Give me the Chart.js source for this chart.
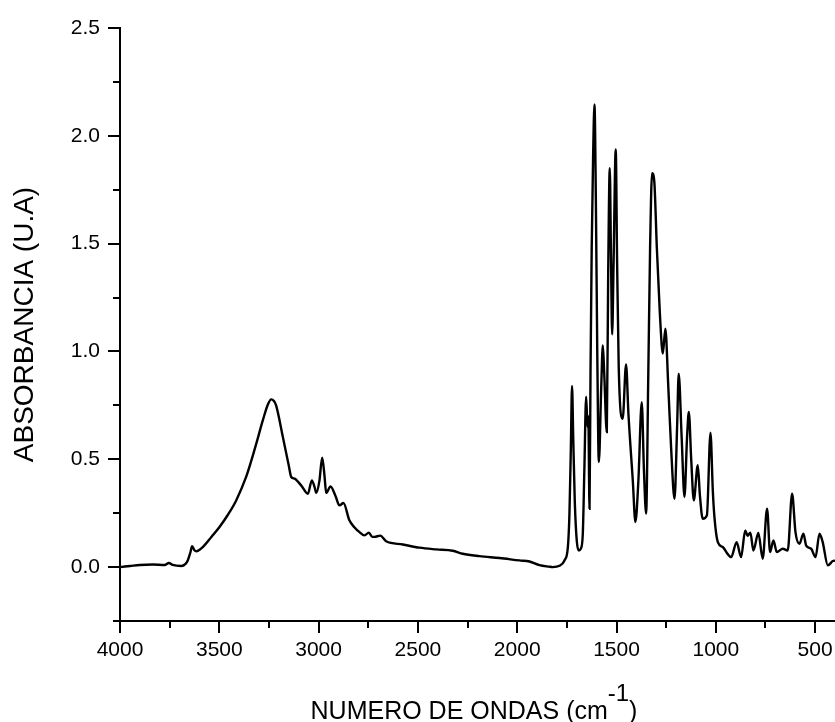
<!DOCTYPE html>
<html lang="es">
<head>
  <meta charset="UTF-8">
  <title>Espectro IR</title>
  <script src="https://cdn.jsdelivr.net/npm/chart.js"></script>
  <style>
    body {
      margin: 0;
      background: #fff;
      font-family: 'Liberation Sans', Arial, sans-serif;
    }
    #wrap {
      width: 835px;
      height: 722px;
    }
  </style>
</head>
<body>
  <div id="wrap"><canvas id="irChart"></canvas></div>

  <script>
    const waveNumbers = [
      4000, 3950, 3900, 3835, 3775, 3754, 3735, 3692, 3670, 3659, 3645, 3637, 3625, 3616, 3583,
      3540, 3499, 3455, 3415, 3365, 3340, 3314, 3281, 3255, 3239, 3225, 3214, 3180, 3150, 3138,
      3121, 3088, 3054, 3034, 3020, 3012, 2996, 2982, 2970, 2962, 2940, 2915, 2895, 2875, 2845,
      2820, 2794, 2769, 2747, 2730, 2719, 2690, 2660, 2576, 2492, 2408, 2325, 2274, 2190, 2089,
      1989, 1938, 1888, 1840, 1821, 1787, 1762, 1745, 1737, 1730, 1724, 1718, 1710, 1700, 1690,
      1680, 1670, 1662, 1653, 1646, 1642, 1636, 1631, 1625, 1618, 1611, 1604, 1597, 1589, 1577,
      1569, 1562, 1549, 1542, 1534, 1528, 1522, 1515, 1504, 1497, 1489, 1469, 1452, 1440, 1418,
      1405, 1390, 1373, 1362, 1351, 1340, 1331, 1321, 1310, 1297, 1282, 1267, 1254, 1240, 1225,
      1208, 1195, 1187, 1172, 1158, 1145, 1136, 1124, 1111, 1091, 1080, 1066, 1045, 1027, 1015,
      1007, 990, 965, 940, 923, 895, 873, 852, 840, 826, 811, 786, 764, 742, 727,
      710, 693, 663, 638, 616, 599, 579, 559, 545, 520, 498, 478, 462, 436, 411, 400
    ];

    // absorbancia (U.A)
    const absorbance = [
      0.000, 0.005, 0.010, 0.012, 0.010, 0.019, 0.010, 0.005, 0.015, 0.031, 0.070, 0.097, 0.078, 0.073, 0.093,
      0.140, 0.186, 0.245, 0.309, 0.418, 0.490, 0.572, 0.680, 0.755, 0.778, 0.770, 0.750, 0.603, 0.470, 0.418,
      0.410, 0.379, 0.340, 0.402, 0.370, 0.344, 0.400, 0.507, 0.420, 0.344, 0.374, 0.330, 0.286, 0.297, 0.217,
      0.185, 0.162, 0.147, 0.160, 0.140, 0.140, 0.146, 0.120, 0.105, 0.090, 0.082, 0.076, 0.062, 0.051, 0.042,
      0.031, 0.026, 0.009, 0.002, 0.000, 0.006, 0.031, 0.093, 0.250, 0.550, 0.840, 0.600, 0.300, 0.120, 0.077,
      0.085, 0.150, 0.450, 0.790, 0.650, 0.700, 0.270, 0.900, 1.480, 1.900, 2.146, 1.700, 1.000, 0.487, 0.835,
      1.028, 0.900, 0.626, 1.360, 1.850, 1.450, 1.080, 1.400, 1.937, 1.410, 0.930, 0.688, 0.940, 0.710, 0.400,
      0.209, 0.400, 0.765, 0.450, 0.248, 0.900, 1.480, 1.827, 1.790, 1.480, 1.180, 0.990, 1.106, 0.850, 0.550,
      0.317, 0.650, 0.897, 0.600, 0.325, 0.600, 0.719, 0.500, 0.310, 0.472, 0.330, 0.224, 0.240, 0.623, 0.350,
      0.232, 0.116, 0.093, 0.060, 0.046, 0.116, 0.046, 0.170, 0.145, 0.160, 0.077, 0.158, 0.039, 0.271, 0.070,
      0.124, 0.070, 0.085, 0.077, 0.340, 0.162, 0.108, 0.155, 0.100, 0.085, 0.046, 0.155, 0.116, 0.008, 0.028, 0.030
    ];

    const xMajorTicks = [4000, 3500, 3000, 2500, 2000, 1500, 1000, 500];
    const xMinorTicks = [3750, 3250, 2750, 2250, 1750, 1250, 750];
    const yMajorTicks = [0.0, 0.5, 1.0, 1.5, 2.0, 2.5];
    const yMinorTicks = [-0.25, 0.25, 0.75, 1.25, 1.75, 2.25];

    const FONT = "'Liberation Sans', Arial, sans-serif";

    // ticks menores y titulo del eje x (con superindice)
    const extrasPlugin = {
      id: 'extras',
      afterDraw(chart) {
        const ctx = chart.ctx;
        const x = chart.scales.x, y = chart.scales.y;
        const area = chart.chartArea;
        ctx.save();
        ctx.strokeStyle = '#000';
        ctx.lineWidth = 2;
        ctx.beginPath();
        xMinorTicks.forEach(v => {
          const px = Math.round(x.getPixelForValue(v));
          ctx.moveTo(px, area.bottom);
          ctx.lineTo(px, area.bottom + 7);
        });
        yMinorTicks.forEach(v => {
          const py = Math.round(y.getPixelForValue(v));
          ctx.moveTo(area.left - 7, py);
          ctx.lineTo(area.left, py);
        });
        ctx.stroke();

        const main = 'NUMERO DE ONDAS (cm';
        const sup = '-1';
        const close = ')';
        ctx.fillStyle = '#000';
        ctx.textBaseline = 'alphabetic';
        ctx.textAlign = 'left';
        ctx.font = '25px ' + FONT;
        const wMain = ctx.measureText(main).width;
        const wClose = ctx.measureText(close).width;
        ctx.font = '24px ' + FONT;
        const wSup = ctx.measureText(sup).width;
        const total = wMain + wSup + wClose;
        let sx = 474 - total / 2;
        const base = 719;
        ctx.font = '25px ' + FONT;
        ctx.fillText(main, sx, base);
        sx += wMain;
        ctx.font = '24px ' + FONT;
        ctx.fillText(sup, sx, base - 18);
        sx += wSup;
        ctx.font = '25px ' + FONT;
        ctx.fillText(close, sx, base);
        ctx.restore();
      }
    };

    const points = waveNumbers.map((w, i) => ({ x: w, y: absorbance[i] }));

    new Chart(document.getElementById('irChart'), {
      type: 'line',
      data: {
        datasets: [{
          data: points,
          borderColor: '#000',
          borderWidth: 2.4,
          pointRadius: 0,
          cubicInterpolationMode: 'monotone',
          fill: false
        }]
      },
      options: {
        responsive: true,
        maintainAspectRatio: false,
        animation: false,
        layout: { padding: { top: 28, right: 0, left: 0, bottom: 0 } },
        plugins: { legend: { display: false }, tooltip: { enabled: false } },
        scales: {
          x: {
            type: 'linear',
            reverse: true,
            min: 400,
            max: 4000,
            afterBuildTicks: s => { s.ticks = xMajorTicks.map(v => ({ value: v })); },
            afterFit: s => { s.height = 101; s.paddingLeft = 0; s.paddingRight = 0; },
            ticks: {
              color: '#000',
              font: { family: FONT, size: 21 },
              padding: 5,
              maxRotation: 0,
              autoSkip: false,
              callback: v => String(v)
            },
            grid: { drawOnChartArea: false, drawTicks: true, tickLength: 12, color: '#000', lineWidth: 2 },
            border: { display: true, color: '#000', width: 2 }
          },
          y: {
            min: -0.25,
            max: 2.5,
            afterBuildTicks: s => { s.ticks = yMajorTicks.map(v => ({ value: v })); },
            afterFit: s => { s.width = 120; },
            ticks: {
              color: '#000',
              font: { family: FONT, size: 21 },
              padding: 8,
              autoSkip: false,
              callback: v => v.toFixed(1)
            },
            grid: { drawOnChartArea: false, drawTicks: true, tickLength: 12, color: '#000', lineWidth: 2 },
            border: { display: true, color: '#000', width: 2 },
            title: {
              display: true,
              text: 'ABSORBANCIA (U.A)',
              color: '#000',
              font: { family: FONT, size: 28 },
              padding: { top: 8, bottom: 0 }
            }
          }
        }
      },
      plugins: [extrasPlugin]
    });
  </script>
</body>
</html>
